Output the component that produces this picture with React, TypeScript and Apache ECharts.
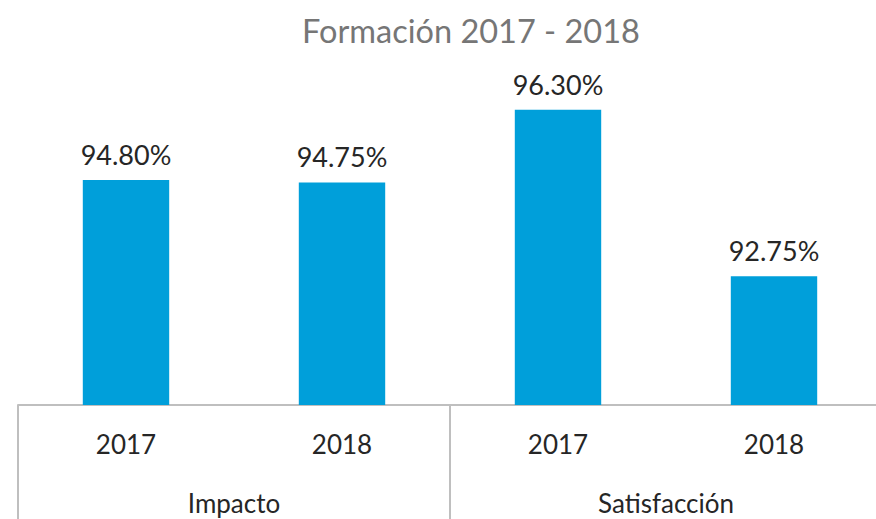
import React, { useEffect, useRef } from "react";
import * as echarts from "echarts";

const title = "Formación 2017 - 2018";
const years = ["2017", "2018", "2017", "2018"];
const groups = ["Impacto", "Satisfacción"];
const values = [94.8, 94.75, 96.3, 92.75];

const FONT = "Lato, 'Noto Sans', sans-serif";

export default function App() {
  const ref = useRef<HTMLDivElement>(null);
  useEffect(() => {
    if (!ref.current) return;
    const chart = echarts.init(ref.current, null, { renderer: "svg" });
    chart.setOption({
      animation: false,
      title: {
        text: title,
        left: 466,
        top: 9,
        textAlign: "center",
        textStyle: { color: "#767676", fontSize: 32.5, fontWeight: "normal", fontFamily: FONT },
      },
      grid: { left: 18, top: 77, right: -6, bottom: 114, containLabel: false, outerBoundsMode: "none" },
      xAxis: [
        {
          type: "category",
          data: years,
          position: "bottom",
          axisLine: { show: true, lineStyle: { color: "#bfbfbf", width: 2 } },
          axisTick: { show: false },
          axisLabel: { color: "#262626", fontSize: 26, fontFamily: FONT, margin: 26 },
        },
        {
          type: "category",
          data: groups,
          position: "bottom",
          axisLine: { show: false },
          axisTick: { show: true, length: 116, lineStyle: { color: "#bfbfbf", width: 2 } },
          axisLabel: { color: "#262626", fontSize: 26, fontFamily: FONT, margin: 85 },
        },
      ],
      yAxis: { type: "value", min: 90, max: 97, show: false, splitLine: { show: false } },
      series: [
        {
          type: "bar",
          data: values,
          barWidth: "40%",
          itemStyle: { color: "#009FDA" },
          label: {
            show: true,
            position: "top",
            distance: 12,
            color: "#262626",
            fontSize: 27,
            fontFamily: FONT,
            formatter: (p: any) => p.value.toFixed(2) + "%",
          },
        },
      ],
    });
    return () => chart.dispose();
  }, []);
  return <div ref={ref} style={{ width: 876, height: 519, position: "absolute", left: 0, top: 0 }} />;
}
